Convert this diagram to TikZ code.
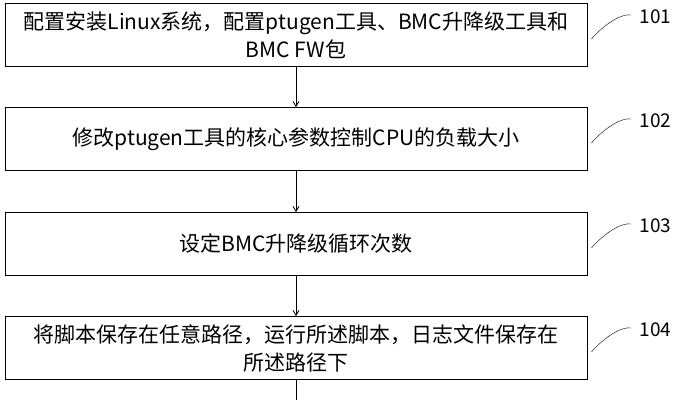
\documentclass[tikz,border=0pt]{standalone}
\usepackage{fontspec}
\newfontfamily\cjk{Noto Sans CJK SC}
\usetikzlibrary{positioning}
\usetikzlibrary{arrows.meta}

\begin{document}
\begin{tikzpicture}[
    x=1pt, y=-1pt,
    sbox/.style={draw, thick, minimum width=582pt, minimum height=63pt, inner sep=0, align=center, font=\cjk\fontsize{21}{28}\selectfont},
    dedge/.style={-{Straight Barb[length=5pt,width=6pt]}, thick},
    lcurve/.style={thin},
    tag/.style={font=\cjk\fontsize{19}{22}\selectfont, anchor=west, inner sep=0}
]
\useasboundingbox (0,0) rectangle (681,400);

% steps
\node[sbox] (s1) at (296,35) {配置安装Linux系统，配置ptugen工具、BMC升降级工具和\\BMC FW包};
\node[sbox] (s2) at (296,139) {修改ptugen工具的核心参数控制CPU的负载大小};
\node[sbox] (s3) at (296,244) {设定BMC升降级循环次数};
\node[sbox] (s4) at (296,348) {将脚本保存在任意路径，运行所述脚本，日志文件保存在\\所述路径下};
\coordinate (end) at (296,400);

\draw[dedge] (s1) -- (s2);
\draw[dedge] (s2) -- (s3);
\draw[dedge] (s3) -- (s4);
\draw[thick] (s4) -- (end);

% step tags
\foreach \n/\s in {101/s1,102/s2,103/s3,104/s4}{
  \node[tag] (t\n) at ([xshift=52pt,yshift=18pt]\s.east) {\n};
  \draw[lcurve] ([xshift=4pt,yshift=-4pt]\s.east) .. controls +(12,-14) and +(-10,-2) .. ([xshift=-8pt,yshift=2pt]t\n.west);
}

\end{tikzpicture}
\end{document}
